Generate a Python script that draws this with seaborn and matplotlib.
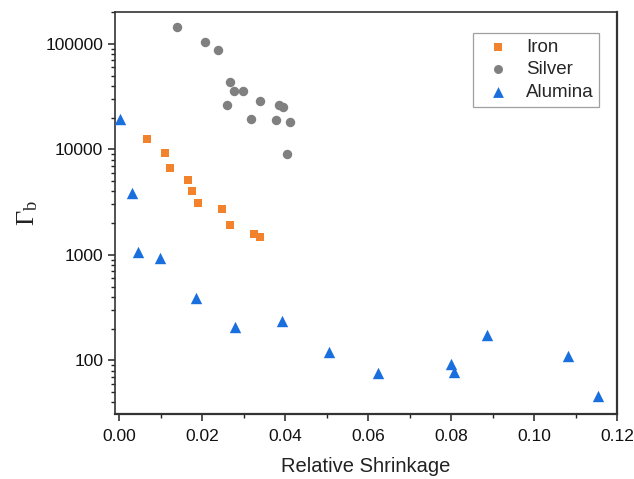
import numpy as np
import pandas as pd
import matplotlib
matplotlib.use("Agg")
import matplotlib.pyplot as plt
import seaborn as sns
from matplotlib.ticker import LogLocator, NullFormatter, FuncFormatter, MultipleLocator

iron_x = [0.0068, 0.0111, 0.0122, 0.0166, 0.0176, 0.0189, 0.0248, 0.0267, 0.0326, 0.0339]
iron_y = [12600, 9250, 6700, 5130, 4000, 3090, 2690, 1900, 1580, 1460]

silver_x = [0.0139, 0.0208, 0.0238, 0.0267, 0.0278, 0.0299, 0.0261, 0.0340, 0.0318,
            0.0386, 0.0396, 0.0378, 0.0411, 0.0405]
silver_y = [144900, 103800, 87700, 43700, 35900, 35700, 26150, 28900, 19400,
            26150, 25350, 19100, 18050, 8990]

alumina_x = [0.0001, 0.0031, 0.0045, 0.0099, 0.0185, 0.0280, 0.0393, 0.0506, 0.0624,
             0.0800, 0.0807, 0.0887, 0.1083, 0.1154]
alumina_y = [19300, 3890, 1070, 925, 387, 207, 236, 120, 76, 93, 77, 172, 109, 46]

series = ["Iron", "Silver", "Alumina"]
colors = {"Iron": "#F2832C", "Silver": "#808080", "Alumina": "#1A6FDF"}
markers = {"Iron": "s", "Silver": "o", "Alumina": "^"}
msize = {"Iron": 6.2, "Silver": 6.8, "Alumina": 8.2}

df = pd.concat([
    pd.DataFrame({"x": iron_x, "y": iron_y, "Material": "Iron"}),
    pd.DataFrame({"x": silver_x, "y": silver_y, "Material": "Silver"}),
    pd.DataFrame({"x": alumina_x, "y": alumina_y, "Material": "Alumina"}),
])

sns.set_theme(style="ticks")
plt.rcParams["font.family"] = ["Liberation Sans", "DejaVu Sans"]
plt.rcParams["mathtext.fontset"] = "custom"
plt.rcParams["mathtext.rm"] = "Liberation Serif"
plt.rcParams["mathtext.it"] = "Liberation Serif:italic"

fig = plt.figure(figsize=(6.34, 4.79), dpi=100)
ax = fig.add_axes([115/634, 1 - 414/479, (617-115)/634, (414-12)/479])

for name in series:
    sub = df[df["Material"] == name]
    sns.scatterplot(data=sub, x="x", y="y", ax=ax, color=colors[name],
                    marker=markers[name], s=msize[name]**2, linewidth=0,
                    label=name, zorder=3)

ax.set_yscale("log")
ax.set_xlim(-0.001, 0.12)
ax.set_ylim(31, 200000)

ax.xaxis.set_major_locator(MultipleLocator(0.02))
ax.xaxis.set_minor_locator(MultipleLocator(0.01))
ax.xaxis.set_major_formatter(FuncFormatter(lambda v, p: f"{v:.2f}"))
ax.yaxis.set_major_locator(LogLocator(base=10, numticks=10))
ax.yaxis.set_minor_locator(LogLocator(base=10, subs=np.arange(2, 10), numticks=20))
ax.yaxis.set_minor_formatter(NullFormatter())
ax.yaxis.set_major_formatter(FuncFormatter(lambda v, p: f"{int(round(v))}"))

ax.tick_params(axis="both", which="major", direction="out", length=5, width=1.1,
               labelsize=12.5, colors="#222222", labelcolor="#111111")
ax.tick_params(axis="x", which="major", pad=6)
ax.tick_params(axis="both", which="minor", direction="out", length=3, width=1.0,
               colors="#222222")
for side in ["top", "right", "left", "bottom"]:
    ax.spines[side].set_visible(True)
    ax.spines[side].set_linewidth(1.2)
    ax.spines[side].set_color("#333333")
ax.spines["right"].set_linewidth(1.6)
ax.spines["bottom"].set_linewidth(1.6)

ax.set_xlabel("Relative Shrinkage", fontsize=14.5, labelpad=9, color="#222222")
ax.set_ylabel(r"$\Gamma_{\mathrm{b}}$", fontsize=19, labelpad=4, color="#222222")

leg = ax.legend(loc="upper right", bbox_to_anchor=(0.9645, 0.948), fontsize=13.5,
                frameon=True, fancybox=False, edgecolor="#888888",
                labelspacing=0.3, handletextpad=0.5, borderpad=0.3,
                handlelength=2.0, markerscale=0.95, borderaxespad=0)
leg.get_frame().set_linewidth(0.9)

fig.savefig("out.png", dpi=100, facecolor="white")
